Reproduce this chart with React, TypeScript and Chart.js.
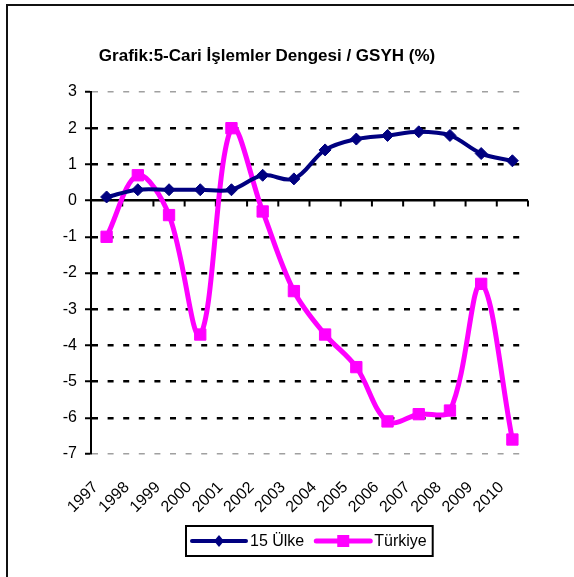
import React, { useEffect, useRef } from "react";
import { Chart, registerables } from "chart.js";

Chart.register(...registerables);

const years = ["1997", "1998", "1999", "2000", "2001", "2002", "2003", "2004", "2005", "2006", "2007", "2008", "2009", "2010"];
const ulke15 = [0.1, 0.3, 0.3, 0.3, 0.3, 0.7, 0.6, 1.4, 1.7, 1.8, 1.9, 1.8, 1.3, 1.1];
const turkiye = [-1.0, 0.7, -0.4, -3.7, 2.0, -0.3, -2.5, -3.7, -4.6, -6.1, -5.9, -5.8, -2.3, -6.6];
const seriesNames = ["15 Ülke", "Türkiye"];
const titleText = "Grafik:5-Cari İşlemler Dengesi / GSYH (%)";
const yMin = -7;
const yMax = 3;

const NAVY = "#000080";
const MAGENTA = "#FF00FF";
const FONT = "'Liberation Sans', Arial, sans-serif";

const titlePlugin = {
  id: "customTitle",
  afterDraw(chart: any) {
    const ctx = chart.ctx;
    ctx.save();
    ctx.font = "bold 17px 'Liberation Sans', sans-serif";
    ctx.fillStyle = "#000";
    ctx.textAlign = "center";
    ctx.textBaseline = "middle";
    ctx.fillText(titleText, 259, 50);
    ctx.restore();
  },
};

const zeroTicksPlugin = {
  id: "zeroTicks",
  beforeDatasetsDraw(chart: any) {
    const { ctx, chartArea, scales } = chart;
    const x = scales.x;
    const y0 = scales.y.getPixelForValue(0);
    const n = years.length;
    const step = (chartArea.right - chartArea.left) / n;
    ctx.save();
    ctx.strokeStyle = "#000";
    ctx.lineWidth = 2;
    ctx.beginPath();
    for (let i = 1; i <= n; i++) {
      const px = x.left + i * step;
      ctx.moveTo(px, y0);
      ctx.lineTo(px, y0 + 6);
    }
    ctx.stroke();
    ctx.restore();
  },
};

function drawMarker(ctx: CanvasRenderingContext2D, kind: string, x: number, y: number, color: string) {
  ctx.fillStyle = color;
  ctx.beginPath();
  if (kind === "diamond") {
    ctx.moveTo(x, y - 6);
    ctx.lineTo(x + 5, y);
    ctx.lineTo(x, y + 6);
    ctx.lineTo(x - 5, y);
    ctx.closePath();
  } else {
    ctx.rect(x - 6, y - 6, 12, 12);
  }
  ctx.fill();
}

const legendPlugin = {
  id: "boxLegend",
  afterDraw(chart: any) {
    const { ctx, chartArea } = chart;
    ctx.save();
    ctx.font = "16px " + FONT;
    ctx.textBaseline = "middle";
    ctx.textAlign = "left";
    const lineLen = 54;
    const w1 = ctx.measureText(seriesNames[0]).width;
    const w2 = ctx.measureText(seriesNames[1]).width;
    const pad = 6;
    const gapText = 4;
    const gapItems = 12;
    const total = pad + lineLen + gapText + w1 + gapItems + lineLen + gapText + w2 + pad;
    const cx = (chartArea.left + chartArea.right) / 2;
    const left = Math.round(cx - total / 2);
    const top = 520;
    const h = 30;
    const cy = top + h / 2;
    ctx.strokeStyle = "#000";
    ctx.lineWidth = 2;
    ctx.strokeRect(left, top, total, h);
    let x = left + pad;
    const items = [
      { name: seriesNames[0], color: NAVY, kind: "diamond", w: w1, lw: 4 },
      { name: seriesNames[1], color: MAGENTA, kind: "square", w: w2, lw: 5 },
    ];
    items.forEach((it, i) => {
      ctx.strokeStyle = it.color;
      ctx.lineWidth = it.lw;
      ctx.lineCap = "round";
      ctx.beginPath();
      ctx.moveTo(x, cy);
      ctx.lineTo(x + lineLen, cy);
      ctx.stroke();
      drawMarker(ctx, it.kind, x + lineLen / 2, cy, it.color);
      x += lineLen + gapText;
      ctx.fillStyle = "#000";
      ctx.fillText(it.name, x, cy + 1);
      x += it.w + (i === 0 ? gapItems : 0);
    });
    ctx.restore();
  },
};

export default function App() {
  const ref = useRef<HTMLCanvasElement>(null);
  useEffect(() => {
    if (!ref.current) return;
    const chart = new Chart(ref.current, {
      type: "line",
      data: {
        labels: years,
        datasets: [
          {
            label: seriesNames[0],
            data: ulke15,
            borderColor: NAVY,
            backgroundColor: NAVY,
            borderWidth: 4,
            pointStyle: "rectRot",
            pointRadius: 6,
            pointBorderWidth: 1,
            pointBackgroundColor: NAVY,
            pointBorderColor: NAVY,
            tension: 0.35,
            fill: false,
          },
          {
            label: seriesNames[1],
            data: turkiye,
            borderColor: MAGENTA,
            backgroundColor: MAGENTA,
            borderWidth: 5,
            pointStyle: "rect",
            pointRadius: 8,
            pointBorderWidth: 1,
            pointBackgroundColor: MAGENTA,
            pointBorderColor: MAGENTA,
            tension: 0.35,
            fill: false,
          },
        ],
      },
      options: {
        responsive: false,
        animation: false,
        layout: { padding: { top: 86, right: 46, bottom: 53, left: 0 } },
        plugins: {
          legend: { display: false },
          title: { display: false },
          tooltip: { enabled: false },
        },
        scales: {
          x: {
            type: "category",
            offset: true,
            grid: { display: false, drawTicks: false },
            border: { display: false },
            ticks: {
              minRotation: 45,
              maxRotation: 45,
              padding: 24,
              labelOffset: -11,
              color: "#000",
              font: { family: FONT, size: 16 },
              autoSkip: false,
            },
            afterFit: (s: any) => {
              s.height = 70;
            },
          },
          y: {
            min: yMin,
            max: yMax,
            ticks: {
              stepSize: 1,
              padding: 8,
              color: "#000",
              font: { family: FONT, size: 16 },
            },
            grid: {
              color: (c: any) => {
                const v = c.tick ? c.tick.value : null;
                if (v === yMin || v === yMax) return "#a0a0a0";
                return "#000";
              },
              lineWidth: (c: any) => {
                const v = c.tick ? c.tick.value : null;
                if (v === yMin || v === yMax) return 1.5;
                return 2.5;
              },
              drawTicks: true,
              tickLength: 6,
              tickColor: "#000",
              tickWidth: 2,
            },
            border: {
              display: true,
              color: "#000",
              width: 2,
              dash: (c: any) => {
                const v = c && c.tick ? c.tick.value : null;
                if (v === 0) return [];
                if (v === null || v === undefined) return [];
                return [6, 9.6];
              },
            },
            afterFit: (s: any) => {
              s.width = 83;
            },
          },
        },
      },
      plugins: [titlePlugin, zeroTicksPlugin, legendPlugin],
    } as any);
    return () => chart.destroy();
  }, []);

  return (
    <div
      style={{
        position: "absolute",
        left: 6,
        top: 4,
        width: 566,
        height: 571,
        borderTop: "2px solid #111",
        borderLeft: "2px solid #111",
        background: "#fff",
      }}
    >
      <canvas ref={ref} width={566} height={571} style={{ display: "block", width: 566, height: 571 }} />
    </div>
  );
}
